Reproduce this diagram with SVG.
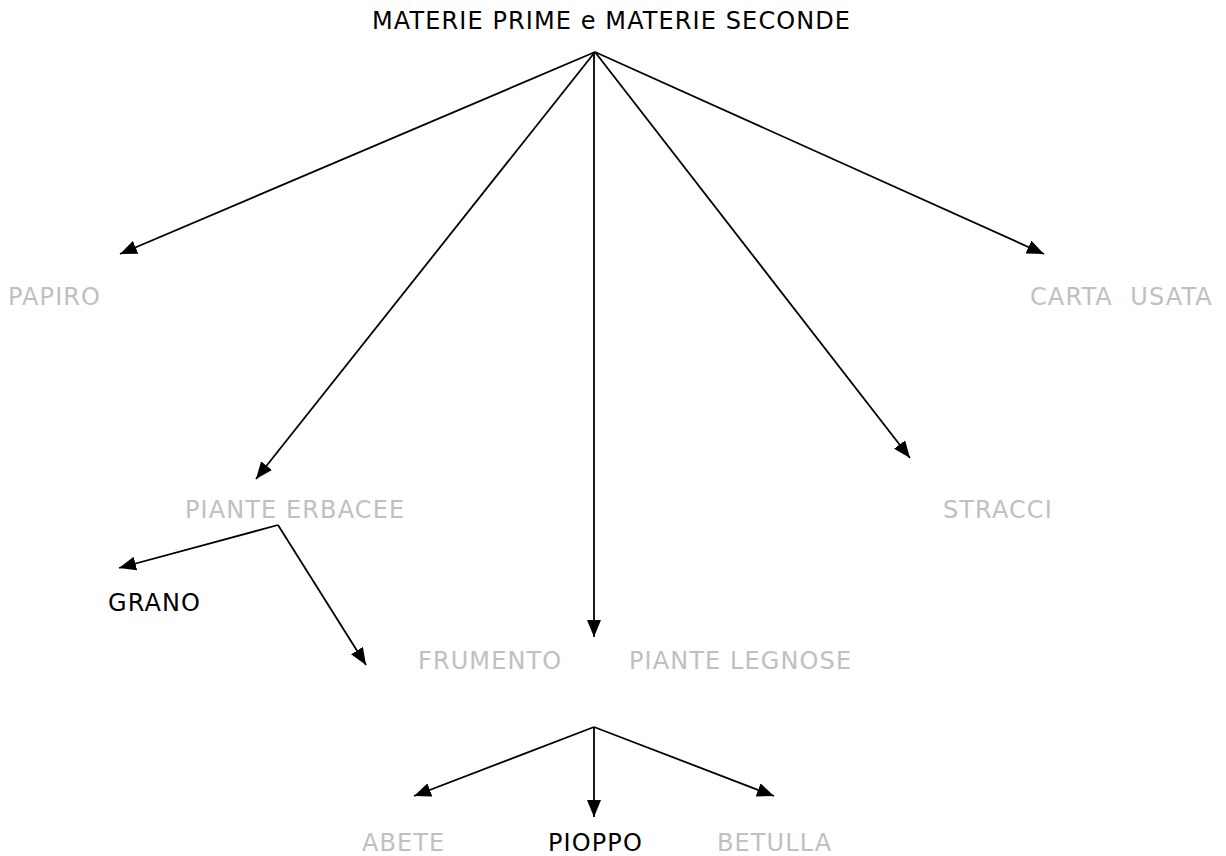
<svg xmlns="http://www.w3.org/2000/svg" width="1226" height="856" viewBox="0 0 1226 856">
<style>
text{font-family:"DejaVu Sans",Verdana,sans-serif;font-size:24px;letter-spacing:1.1px}
.g{fill:#c0c0c0}
.k{fill:#000}
.c line{stroke:#000;stroke-width:1.8}
</style>
<defs>
<marker id="ah" markerUnits="userSpaceOnUse" markerWidth="18" markerHeight="14" viewBox="0 0 18 14" refX="17" refY="7" orient="auto">
<path d="M0,0 L17,7 L0,14 Z" fill="#000"/>
</marker>
</defs>
<rect width="1226" height="856" fill="#fff"/>
<g id="connectors" class="c">
<line x1="595" y1="52" x2="120" y2="254" marker-end="url(#ah)"/>
<line x1="595" y1="52" x2="256" y2="479" marker-end="url(#ah)"/>
<line x1="594" y1="52" x2="594" y2="637" marker-end="url(#ah)"/>
<line x1="595" y1="52" x2="910" y2="458" marker-end="url(#ah)"/>
<line x1="595" y1="52" x2="1044" y2="254" marker-end="url(#ah)"/>
<line x1="278" y1="525" x2="119" y2="568" marker-end="url(#ah)"/>
<line x1="278" y1="525" x2="366" y2="665" marker-end="url(#ah)"/>
<line x1="594" y1="727" x2="414" y2="796" marker-end="url(#ah)"/>
<line x1="594" y1="727" x2="594" y2="817" marker-end="url(#ah)"/>
<line x1="594" y1="727" x2="774" y2="796" marker-end="url(#ah)"/>
</g>
<g id="n-root"><text class="k" x="372" y="29">MATERIE PRIME e MATERIE SECONDE</text></g>
<g id="n-papiro"><text class="g" x="8" y="305">PAPIRO</text></g>
<g id="n-carta"><text class="g" x="1030" y="305" xml:space="preserve">CARTA  USATA</text></g>
<g id="n-erbacee"><text class="g" x="185" y="518">PIANTE ERBACEE</text></g>
<g id="n-stracci"><text class="g" x="943" y="518">STRACCI</text></g>
<g id="n-grano"><text class="k" x="108" y="611">GRANO</text></g>
<g id="n-frumento"><text class="g" x="418" y="669">FRUMENTO</text></g>
<g id="n-legnose"><text class="g" x="629" y="669">PIANTE LEGNOSE</text></g>
<g id="n-abete"><text class="g" x="362" y="851">ABETE</text></g>
<g id="n-pioppo"><text class="k" x="548" y="851">PIOPPO</text></g>
<g id="n-betulla"><text class="g" x="717" y="851">BETULLA</text></g>
</svg>
